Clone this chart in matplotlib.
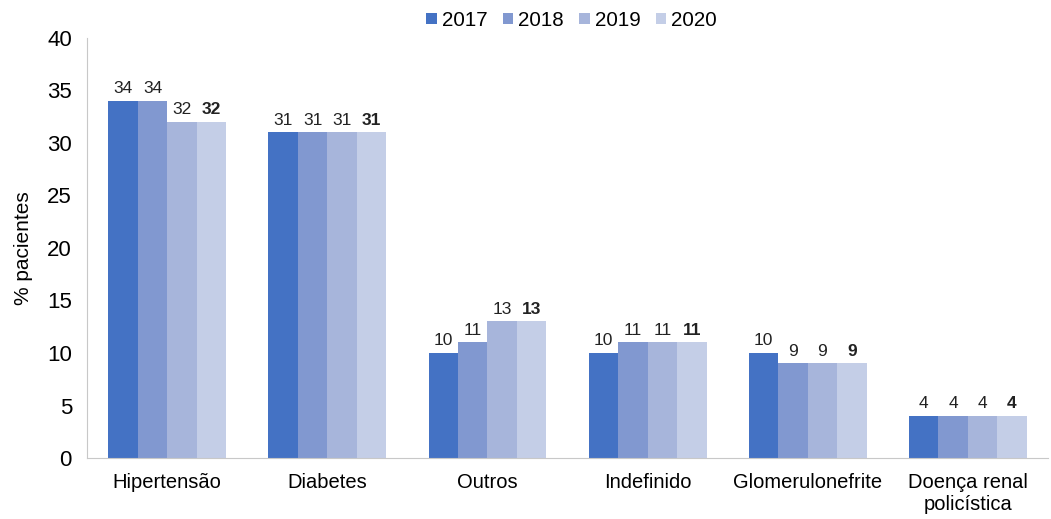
import numpy as np
import matplotlib.pyplot as plt

plt.rcParams['font.family'] = ['Liberation Sans', 'DejaVu Sans']

# dados
causas = ['Hipertensão', 'Diabetes', 'Outros', 'Indefinido', 'Glomerulonefrite', 'Doença renal\npolicística']
anos = ['2017', '2018', '2019', '2020']
v2017 = [34, 31, 10, 10, 10, 4]
v2018 = [34, 31, 11, 11, 9, 4]
v2019 = [32, 31, 13, 11, 9, 4]
v2020 = [32, 31, 13, 11, 9, 4]
cores = ['#4472C4', '#8198D0', '#A7B5DB', '#C4CEE7']

series = [v2017, v2018, v2019, v2020]
x = np.arange(len(causas))
largura = 0.184

fig = plt.figure(figsize=(10.51, 5.19), dpi=100)
ax = fig.add_axes([0.083, 0.1175, 0.914, 0.8095])

for i, (ano, vals) in enumerate(zip(anos, series)):
    pos = x + (i - 1.5) * largura
    ax.bar(pos, vals, width=largura, color=cores[i], label=ano)
    for p, v in zip(pos, vals):
        ax.text(p, v + 0.45, str(v), ha='center', va='bottom', fontsize=12.5,
                fontweight='bold' if ano == '2020' else 'normal', color='#222222')

ax.set_xlim(-0.5, len(causas) - 0.5)
ax.set_ylim(0, 40)
ax.set_yticks(range(0, 41, 5))
ax.set_xticks(x)
ax.set_xticklabels(causas, fontsize=14.5, linespacing=1.15)
ax.tick_params(axis='y', labelsize=16, length=0, pad=11)
ax.tick_params(axis='x', length=0, pad=11)
ax.set_ylabel('% pacientes', fontsize=15, labelpad=10)

for lado in ['top', 'right']:
    ax.spines[lado].set_visible(False)
ax.spines['left'].set_color('#c8c8c8')
ax.spines['bottom'].set_color('#c8c8c8')

fig.legend(loc='center', bbox_to_anchor=(0.544, 0.961), ncol=4, frameon=False,
           fontsize=14.8, handlelength=0.5, handleheight=0.5, handletextpad=0.25,
           columnspacing=0.75)

fig.savefig('out.png', dpi=100)
